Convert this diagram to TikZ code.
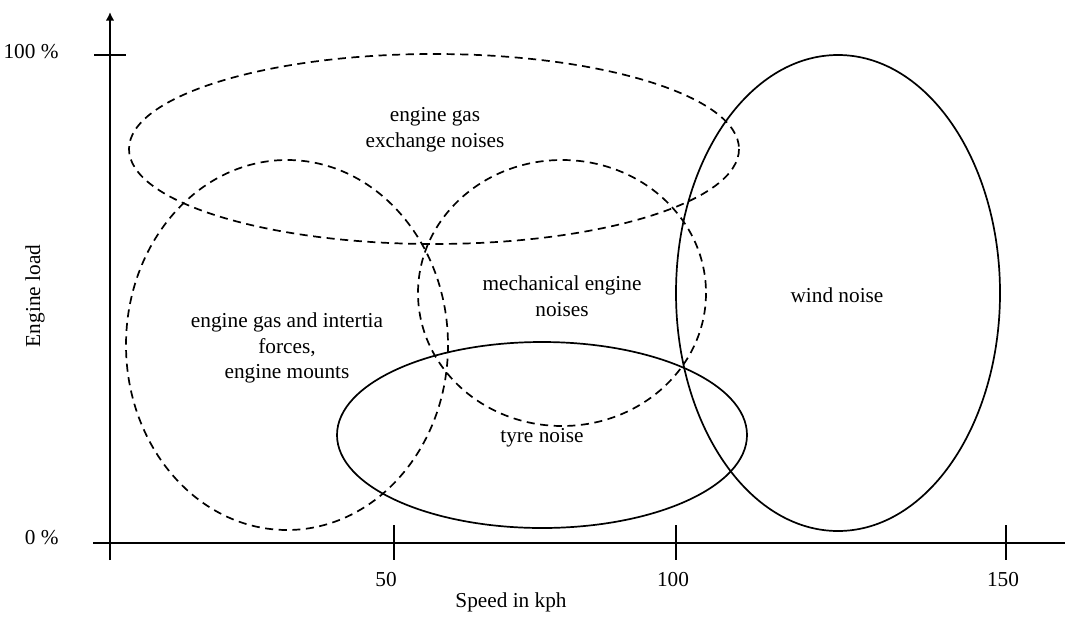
\documentclass[tikz,border=0pt]{standalone}
\usepackage{fontspec}
\setmainfont{Liberation Serif}
\usetikzlibrary{arrows.meta}

\begin{document}
\begin{tikzpicture}[
    x=0.47pt, y=-0.47pt,
    axis/.style={line width=1.3pt},
    zone/.style={line width=0.8pt},
    estimated/.style={zone, dash pattern=on 3.8pt off 2.6pt},
    label/.style={align=center, font=\normalsize}
]
\useasboundingbox (0,0) rectangle (1065,616);

% Axes
\coordinate (Origin) at (110,543);
\coordinate (YTop) at (110,12);
\coordinate (YBottom) at (110,560);
\coordinate (XLeft) at (93,543);
\coordinate (XRight) at (1065,543);
\draw[axis, -{Latex[length=4pt,width=4pt]}] (YBottom) -- (YTop);
\draw[axis] (XLeft) -- (XRight);
\draw[axis] (94,55) -- (126,55);
\foreach \xpos in {394, 676, 1006}
    \draw[axis] (\xpos,525) -- (\xpos,560);

% Axis labels
\node[anchor=east] (Full) at (66,52) {100 \%};
\node[anchor=east] (Zero) at (66,538) {0 \%};
\node[rotate=90] (LoadLabel) at (35,296) {Engine load};
\node (Fifty) at (386,580) {50};
\node (Hundred) at (673,580) {100};
\node (OneFifty) at (1003,580) {150};
\node (SpeedLabel) at (511,602) {Speed in kph};

% Noise regions
\draw[estimated] (434,149) ellipse [x radius=305, y radius=95];
\draw[estimated] (287,345) ellipse [x radius=161, y radius=185];
\draw[estimated] (562,293) ellipse [x radius=144, y radius=133];
\draw[zone] (542,435) ellipse [x radius=205, y radius=93];
\draw[zone] (838,293) ellipse [x radius=162, y radius=238];

% Region texts
\node[label] (GasExchange) at (435,130) {engine gas\\exchange noises};
\node[label] (GasForces) at (287,348) {engine gas and intertia\\forces,\\engine mounts};
\node[label] (Mechanical) at (562,296) {mechanical engine\\noises};
\node[label] (Tyre) at (542,438) {tyre noise};
\node[label] (Wind) at (837,295) {wind noise};

\end{tikzpicture}
\end{document}
